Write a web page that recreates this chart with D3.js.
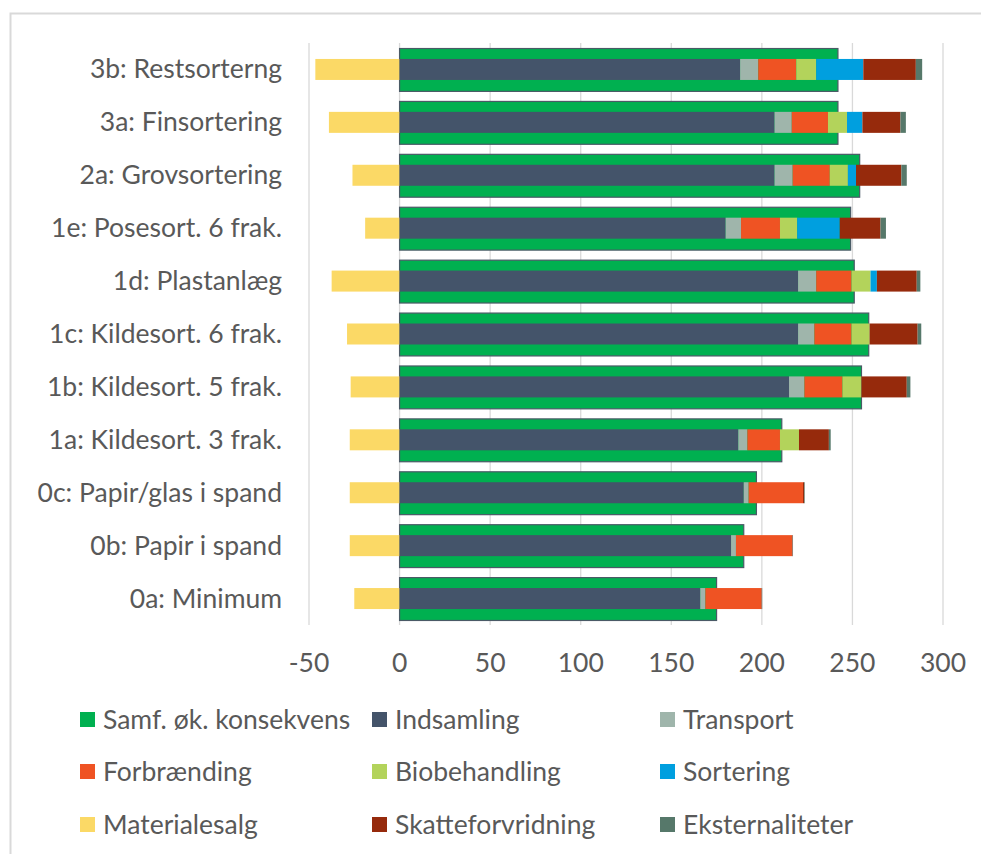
<!DOCTYPE html>
<html>
<head>
<meta charset="utf-8">
<script src="https://cdn.jsdelivr.net/npm/d3@7"></script>
<style>
  body { margin: 0; background: #fff; }
  svg text { font-family: Lato, "Noto Sans", sans-serif; fill: #595959; }
</style>
</head>
<body>
<svg id="chart" width="981" height="854"></svg>
<script>
var categories = ["3b: Restsorterng", "3a: Finsortering", "2a: Grovsortering", "1e: Posesort. 6 frak.",
  "1d: Plastanlæg", "1c: Kildesort. 6 frak.", "1b: Kildesort. 5 frak.", "1a: Kildesort. 3 frak.",
  "0c: Papir/glas i spand", "0b: Papir i spand", "0a: Minimum"];

var samf          = [242, 242, 254, 249, 251, 259, 255, 211, 197, 190, 175];
var indsamling    = [188, 207, 207, 180, 220, 220, 215, 187, 190, 183, 166];
var transport     = [10, 9.5, 10, 8.5, 10, 9, 8.5, 5, 2.7, 2.7, 2.8];
var forbraending  = [21, 20, 20.5, 21.5, 19.5, 20.5, 21, 18, 30, 31, 31];
var biobehandling = [11, 10.5, 10, 9.5, 10.5, 10, 10.5, 10.5, 0, 0, 0];
var sortering     = [26, 8.5, 4.5, 23.5, 3.5, 0, 0, 0, 0, 0, 0];
var materialesalg = [-46.5, -39, -26, -19, -37.5, -29, -27, -27.5, -27.5, -27.5, -25];
var skatte        = [29, 21, 25, 22.5, 22, 26.5, 25, 16.5, 0.7, 0.3, 0.2];
var eksternal     = [3.5, 3, 3, 3, 2, 2, 2, 1, 0.3, 0.2, 0.2];

var xTicks = [-50, 0, 50, 100, 150, 200, 250, 300];

// stacked positive parts, in drawing order
var stackSeries = [
  { name: "Indsamling", values: indsamling, color: "#44546a" },
  { name: "Transport", values: transport, color: "#9fb5ab" },
  { name: "Forbrænding", values: forbraending, color: "#ef5323" },
  { name: "Biobehandling", values: biobehandling, color: "#b3d35b" },
  { name: "Sortering", values: sortering, color: "#009fdf" },
  { name: "Skatteforvridning", values: skatte, color: "#962a0c" },
  { name: "Eksternaliteter", values: eksternal, color: "#56786a" }
];

var legendItems = [
  ["Samf. øk. konsekvens", "#00b050"], ["Indsamling", "#44546a"], ["Transport", "#9fb5ab"],
  ["Forbrænding", "#ef5323"], ["Biobehandling", "#b3d35b"], ["Sortering", "#009fdf"],
  ["Materialesalg", "#fbd966"], ["Skatteforvridning", "#962a0c"], ["Eksternaliteter", "#56786a"]
];

var svg = d3.select("#chart");

// outer frame
svg.append("rect")
  .attr("x", 10.5).attr("y", 13.5).attr("width", 1000).attr("height", 1000)
  .attr("fill", "none").attr("stroke", "#d9d9d9").attr("stroke-width", 2);

var x = d3.scaleLinear().domain([-50, 300]).range([309, 943]);
var y = d3.scaleBand().domain(categories).range([43, 625]).paddingInner(0.19).paddingOuter(0.095);

// gridlines
svg.append("g").selectAll("line").data(xTicks).enter().append("line")
  .attr("x1", function(d) { return x(d) }).attr("x2", function(d) { return x(d) })
  .attr("y1", 43).attr("y2", 625)
  .attr("stroke", "#d9d9d9").attr("stroke-width", 1.3);

// tick labels
svg.append("g").selectAll("text").data(xTicks).enter().append("text")
  .attr("x", function(d) { return x(d) }).attr("y", 672)
  .attr("text-anchor", "middle").attr("font-size", 26.5)
  .text(function(d) { return d });

// category labels
svg.append("g").selectAll("text").data(categories).enter().append("text")
  .attr("x", 282).attr("y", function(d) { return y(d) + y.bandwidth() / 2 + 9 })
  .attr("text-anchor", "end").attr("font-size", 26.5)
  .text(function(d) { return d });

// total bar (wide, behind)
svg.append("g").selectAll("rect").data(categories).enter().append("rect")
  .attr("x", x(0)).attr("y", function(d) { return y(d) + 0.5 })
  .attr("width", function(d, i) { return x(samf[i]) - x(0) })
  .attr("height", y.bandwidth())
  .attr("fill", "#00b050").attr("stroke", "#4a5a66").attr("stroke-width", 1.2);

var inner = y.bandwidth() * 0.49;
function innerY(d) { return y(d) + (y.bandwidth() - inner) / 2 }

// materialesalg (negative)
svg.append("g").selectAll("rect").data(categories).enter().append("rect")
  .attr("x", function(d, i) { return x(materialesalg[i]) })
  .attr("y", innerY)
  .attr("width", function(d, i) { return x(0) - x(materialesalg[i]) })
  .attr("height", inner)
  .attr("fill", "#fbd966");

// stacked components
var starts = categories.map(function() { return 0 });
stackSeries.forEach(function(s) {
  svg.append("g").selectAll("rect").data(categories).enter().append("rect")
    .attr("x", function(d, i) { return x(starts[i]) })
    .attr("y", innerY)
    .attr("width", function(d, i) { return x(starts[i] + s.values[i]) - x(starts[i]) })
    .attr("height", inner)
    .attr("fill", s.color);
  categories.forEach(function(d, i) { starts[i] += s.values[i] });
});

// legend
var colX = [80, 372, 660];
var rowY = [720, 772, 825];
var leg = svg.append("g").selectAll("g").data(legendItems).enter().append("g")
  .attr("transform", function(d, i) { return "translate(" + colX[i % 3] + "," + rowY[Math.floor(i / 3)] + ")" });
leg.append("rect").attr("x", 0).attr("y", -8).attr("width", 15).attr("height", 15)
  .attr("fill", function(d) { return d[1] });
leg.append("text").attr("x", 23).attr("y", 9).attr("font-size", 26.5)
  .text(function(d) { return d[0] });
</script>
</body>
</html>
